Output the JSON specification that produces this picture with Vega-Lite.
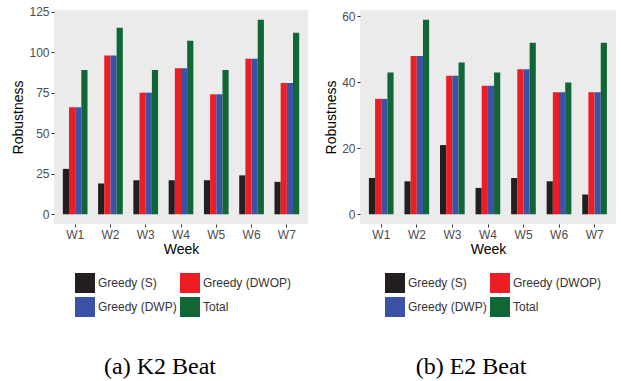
{
  "$schema": "https://vega.github.io/schema/vega-lite/v6.json",
  "background": "white",
  "padding": {"left": 11, "top": 5, "right": 0, "bottom": 0},
  "datasets": {
    "k2": [
      {"week": "W1", "method": "Greedy (S)", "robustness": 28},
      {"week": "W1", "method": "Greedy (DWOP)", "robustness": 66},
      {"week": "W1", "method": "Greedy (DWP)", "robustness": 66},
      {"week": "W1", "method": "Total", "robustness": 89},
      {"week": "W2", "method": "Greedy (S)", "robustness": 19},
      {"week": "W2", "method": "Greedy (DWOP)", "robustness": 98},
      {"week": "W2", "method": "Greedy (DWP)", "robustness": 98},
      {"week": "W2", "method": "Total", "robustness": 115},
      {"week": "W3", "method": "Greedy (S)", "robustness": 21},
      {"week": "W3", "method": "Greedy (DWOP)", "robustness": 75},
      {"week": "W3", "method": "Greedy (DWP)", "robustness": 75},
      {"week": "W3", "method": "Total", "robustness": 89},
      {"week": "W4", "method": "Greedy (S)", "robustness": 21},
      {"week": "W4", "method": "Greedy (DWOP)", "robustness": 90},
      {"week": "W4", "method": "Greedy (DWP)", "robustness": 90},
      {"week": "W4", "method": "Total", "robustness": 107},
      {"week": "W5", "method": "Greedy (S)", "robustness": 21},
      {"week": "W5", "method": "Greedy (DWOP)", "robustness": 74},
      {"week": "W5", "method": "Greedy (DWP)", "robustness": 74},
      {"week": "W5", "method": "Total", "robustness": 89},
      {"week": "W6", "method": "Greedy (S)", "robustness": 24},
      {"week": "W6", "method": "Greedy (DWOP)", "robustness": 96},
      {"week": "W6", "method": "Greedy (DWP)", "robustness": 96},
      {"week": "W6", "method": "Total", "robustness": 120},
      {"week": "W7", "method": "Greedy (S)", "robustness": 20},
      {"week": "W7", "method": "Greedy (DWOP)", "robustness": 81},
      {"week": "W7", "method": "Greedy (DWP)", "robustness": 81},
      {"week": "W7", "method": "Total", "robustness": 112}
    ],
    "e2": [
      {"week": "W1", "method": "Greedy (S)", "robustness": 11},
      {"week": "W1", "method": "Greedy (DWOP)", "robustness": 35},
      {"week": "W1", "method": "Greedy (DWP)", "robustness": 35},
      {"week": "W1", "method": "Total", "robustness": 43},
      {"week": "W2", "method": "Greedy (S)", "robustness": 10},
      {"week": "W2", "method": "Greedy (DWOP)", "robustness": 48},
      {"week": "W2", "method": "Greedy (DWP)", "robustness": 48},
      {"week": "W2", "method": "Total", "robustness": 59},
      {"week": "W3", "method": "Greedy (S)", "robustness": 21},
      {"week": "W3", "method": "Greedy (DWOP)", "robustness": 42},
      {"week": "W3", "method": "Greedy (DWP)", "robustness": 42},
      {"week": "W3", "method": "Total", "robustness": 46},
      {"week": "W4", "method": "Greedy (S)", "robustness": 8},
      {"week": "W4", "method": "Greedy (DWOP)", "robustness": 39},
      {"week": "W4", "method": "Greedy (DWP)", "robustness": 39},
      {"week": "W4", "method": "Total", "robustness": 43},
      {"week": "W5", "method": "Greedy (S)", "robustness": 11},
      {"week": "W5", "method": "Greedy (DWOP)", "robustness": 44},
      {"week": "W5", "method": "Greedy (DWP)", "robustness": 44},
      {"week": "W5", "method": "Total", "robustness": 52},
      {"week": "W6", "method": "Greedy (S)", "robustness": 10},
      {"week": "W6", "method": "Greedy (DWOP)", "robustness": 37},
      {"week": "W6", "method": "Greedy (DWP)", "robustness": 37},
      {"week": "W6", "method": "Total", "robustness": 40},
      {"week": "W7", "method": "Greedy (S)", "robustness": 6},
      {"week": "W7", "method": "Greedy (DWOP)", "robustness": 37},
      {"week": "W7", "method": "Greedy (DWP)", "robustness": 37},
      {"week": "W7", "method": "Total", "robustness": 52}
    ]
  },
  "config": {
    "view": {"fill": "#EBEBEB", "stroke": null},
    "font": "Liberation Sans",
    "axis": {
      "grid": false,
      "domain": false,
      "tickColor": "#333333",
      "tickSize": 3,
      "labelColor": "#4D4D4D",
      "labelFontSize": 12,
      "labelPadding": 2,
      "titleFontSize": 14,
      "titleFontWeight": "normal",
      "titleColor": "#000000"
    },
    "axisX": {"titlePadding": 2},
    "axisY": {"titlePadding": 3},
    "legend": {
      "orient": "none",
      "direction": "horizontal",
      "legendY": 263,
      "columns": 2,
      "symbolType": "square",
      "symbolSize": 400,
      "symbolStrokeWidth": 0,
      "symbolOpacity": 1,
      "labelFontSize": 12,
      "labelColor": "#333333",
      "labelOffset": 3,
      "rowPadding": 4,
      "columnPadding": 3,
      "title": null
    },
    "title": {
      "orient": "bottom",
      "font": "Liberation Serif",
      "fontSize": 24,
      "fontWeight": "normal",
      "color": "#000000",
      "anchor": "middle",
      "offset": 38
    }
  },
  "spacing": 16,
  "resolve": {"scale": {"color": "independent"}, "legend": {"color": "independent"}},
  "hconcat": [
    {
      "width": 254,
      "height": 214,
      "title": {"text": "(a) K2 Beat", "dx": -21},
      "data": {"name": "k2"},
      "mark": {"type": "bar"},
      "encoding": {
        "x": {"field": "week", "type": "nominal", "scale": {"paddingInner": 0.3, "paddingOuter": 0.25}, "axis": {"labelAngle": 0, "title": "Week"}},
        "xOffset": {"field": "method", "type": "nominal", "sort": ["Greedy (S)", "Greedy (DWOP)", "Greedy (DWP)", "Total"]},
        "y": {"field": "robustness", "type": "quantitative", "scale": {"domain": [-6, 126], "nice": false, "zero": false}, "axis": {"values": [0, 25, 50, 75, 100, 125], "title": "Robustness"}},
        "y2": {"datum": 0},
        "color": {"field": "method", "type": "nominal", "sort": ["Greedy (S)", "Greedy (DWOP)", "Greedy (DWP)", "Total"], "scale": {"domain": ["Greedy (S)", "Greedy (DWOP)", "Greedy (DWP)", "Total"], "range": ["#231F20", "#EE1D23", "#3A53A4", "#106635"]}, "legend": {"legendX": 21}}
      }
    },
    {
      "width": 256,
      "height": 214,
      "title": {"text": "(b) E2 Beat", "dx": -17},
      "data": {"name": "e2"},
      "mark": {"type": "bar"},
      "encoding": {
        "x": {"field": "week", "type": "nominal", "scale": {"paddingInner": 0.3, "paddingOuter": 0.25}, "axis": {"labelAngle": 0, "title": "Week"}},
        "xOffset": {"field": "method", "type": "nominal", "sort": ["Greedy (S)", "Greedy (DWOP)", "Greedy (DWP)", "Total"]},
        "y": {"field": "robustness", "type": "quantitative", "scale": {"domain": [-2.95, 61.95], "nice": false, "zero": false}, "axis": {"values": [0, 20, 40, 60], "title": "Robustness"}},
        "y2": {"datum": 0},
        "color": {"field": "method", "type": "nominal", "sort": ["Greedy (S)", "Greedy (DWOP)", "Greedy (DWP)", "Total"], "scale": {"domain": ["Greedy (S)", "Greedy (DWOP)", "Greedy (DWP)", "Total"], "range": ["#231F20", "#EE1D23", "#3A53A4", "#106635"]}, "legend": {"legendX": 25}}
      }
    }
  ]
}
